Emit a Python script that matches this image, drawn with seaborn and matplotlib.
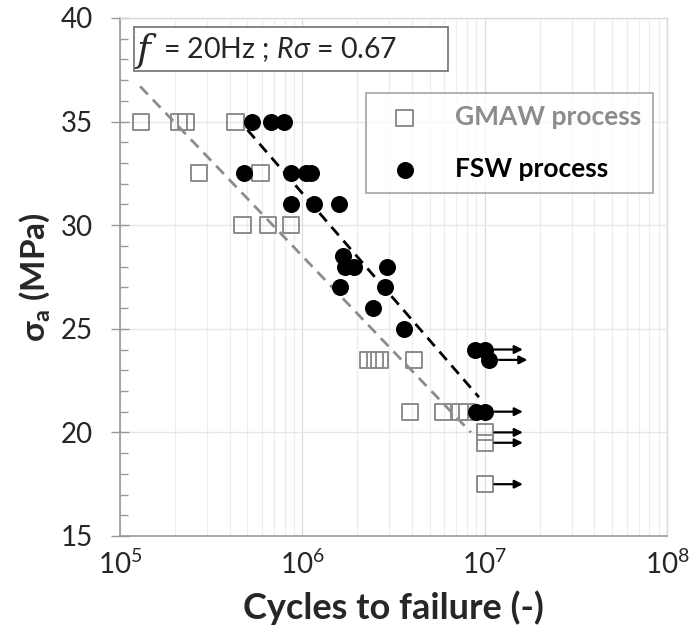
import numpy as np
import pandas as pd
import matplotlib
matplotlib.use('Agg')
import matplotlib.pyplot as plt
import seaborn as sns
from matplotlib.patches import Rectangle
from matplotlib.ticker import FixedLocator, MultipleLocator, NullFormatter

# GMAW process (open squares); last three are run-outs
gmaw_cycles = [1.3e5, 2.1e5, 2.3e5, 4.3e5, 2.7e5, 5.9e5, 4.7e5, 6.5e5, 8.7e5,
               2.3e6, 2.5e6, 2.65e6, 4.1e6, 3.9e6, 5.9e6, 7.3e6, 8.0e6,
               1.0e7, 1.0e7, 1.0e7]
gmaw_stress = [35, 35, 35, 35, 32.5, 32.5, 30, 30, 30,
               23.5, 23.5, 23.5, 23.5, 21, 21, 21, 21,
               20, 19.5, 17.5]
gmaw_runout = [False] * 17 + [True] * 3

# FSW process (filled circles)
fsw_cycles = [5.3e5, 6.7e5, 7.9e5, 4.8e5, 8.7e5, 1.05e6, 1.12e6, 8.7e5, 1.16e6,
              1.58e6, 1.68e6, 1.72e6, 1.93e6, 2.93e6, 1.6e6, 2.83e6, 2.45e6,
              3.6e6, 8.8e6, 1.0e7, 1.06e7, 9.0e6, 1.0e7]
fsw_stress = [35, 35, 35, 32.5, 32.5, 32.5, 32.5, 31, 31,
              31, 28.5, 28, 28, 28, 27, 27, 26,
              25, 24, 24, 23.5, 21, 21]
fsw_runout = [False] * 19 + [True, True, False, True]

# trend lines
gmaw_fit_cycles = [1.29e5, 8.4e6]
gmaw_fit_stress = [36.7, 20.0]
fsw_fit_cycles = [5.0e5, 9.3e6]
fsw_fit_stress = [34.6, 21.7]

gmaw = pd.DataFrame({'N': gmaw_cycles, 'S': gmaw_stress, 'runout': gmaw_runout})
fsw = pd.DataFrame({'N': fsw_cycles, 'S': fsw_stress, 'runout': fsw_runout})

sns.set_style('white')
plt.rcParams['font.family'] = ['Lato', 'DejaVu Sans']
plt.rcParams['mathtext.fontset'] = 'custom'
plt.rcParams['mathtext.rm'] = 'Lato'
plt.rcParams['mathtext.it'] = 'Lato:italic'
plt.rcParams['mathtext.bf'] = 'Lato:bold'

fig = plt.figure(figsize=(6.94, 6.26), dpi=100)
ax = fig.add_axes([120 / 694, 1 - 536 / 626, 547 / 694, 518 / 626])

ax.set_xscale('log')
ax.set_xlim(1e5, 1e8)
ax.set_ylim(15, 40)

# grid
minor_x = [m * 10 ** d for d in range(5, 8) for m in range(2, 10)]
ax.xaxis.set_minor_locator(FixedLocator(minor_x))
ax.xaxis.set_minor_formatter(NullFormatter())
ax.grid(which='minor', axis='x', color='#ededed', lw=0.9)
ax.grid(which='major', axis='x', color='#dcdcdc', lw=0.9)
ax.grid(which='major', axis='y', color='#e6e6e6', lw=1.0)
ax.set_axisbelow(True)

sns.lineplot(x=gmaw_fit_cycles, y=gmaw_fit_stress, ax=ax, color='#8c8c8c',
             lw=2.0, linestyle=(0, (4, 2.6)), zorder=2)
sns.lineplot(x=fsw_fit_cycles, y=fsw_fit_stress, ax=ax, color='black',
             lw=2.0, linestyle=(0, (4, 2.6)), zorder=2)

sns.scatterplot(data=gmaw, x='N', y='S', ax=ax, marker='s', s=135,
                facecolor='none', edgecolor='#8c8c8c', linewidth=1.4,
                label='GMAW process', zorder=3)
sns.scatterplot(data=fsw, x='N', y='S', ax=ax, marker='o', s=150,
                color='black', edgecolor='black', linewidth=0,
                label='FSW process', zorder=4)

# run-out arrows
for df in (gmaw, fsw):
    for _, r in df[df['runout']].iterrows():
        ax.annotate('', xy=(r['N'] * 1.62, r['S']), xytext=(r['N'] * 1.13, r['S']),
                    arrowprops=dict(arrowstyle='-|>', color='black', lw=1.6,
                                    mutation_scale=12, shrinkA=0, shrinkB=0),
                    zorder=5)

# ticks
ax.set_xticks([1e5, 1e6, 1e7, 1e8])
ax.set_xticklabels([r'$10^{5}$', r'$10^{6}$', r'$10^{7}$', r'$10^{8}$'])
ax.set_yticks([15, 20, 25, 30, 35, 40])
ax.yaxis.set_minor_locator(MultipleLocator(1))
ax.tick_params(axis='x', which='both', length=0, labelsize=20, pad=10)
ax.tick_params(axis='y', which='major', direction='inout', length=13,
               width=1, color='#9a9a9a', labelsize=20, pad=13, left=True)
ax.tick_params(axis='y', which='minor', direction='in', length=6,
               width=1, color='#9a9a9a', left=True)

for side in ('left', 'bottom'):
    ax.spines[side].set_color('#9a9a9a')
    ax.spines[side].set_linewidth(1.2)
for side in ('top', 'right'):
    ax.spines[side].set_color('#d9d9d9')
    ax.spines[side].set_linewidth(1.0)

ax.set_xlabel('Cycles to failure (-)', fontsize=26, fontweight='bold', labelpad=8)
ax.set_ylabel(r'$\mathbf{\sigma_a}$ (MPa)', fontsize=24, fontweight='bold', labelpad=6)

# condition box
ax.add_patch(Rectangle((0.0256, 0.898), 0.574, 0.085, transform=ax.transAxes,
                       facecolor='white', edgecolor='#707070', lw=1.2, zorder=6))
ax.text(0.030, 0.937, 'f', transform=ax.transAxes, family='DejaVu Serif',
        style='italic', fontsize=27, va='center', ha='left', zorder=7)
ax.text(0.078, 0.940, r'= 20Hz ; $R\sigma$ = 0.67', transform=ax.transAxes,
        fontsize=20.5, va='center', ha='left', zorder=7)

# legend
leg = ax.legend(loc='upper right', bbox_to_anchor=(0.974, 0.855), frameon=True,
                fancybox=False, edgecolor='#8c8c8c',
                prop={'weight': 'bold', 'size': 19}, borderpad=0.45,
                labelspacing=1.05, handletextpad=0.9, borderaxespad=0,
                markerscale=1.0)
leg.get_frame().set_linewidth(1.2)
leg.get_texts()[0].set_color('#8c8c8c')
leg.get_texts()[1].set_color('black')

fig.savefig('out.png', dpi=100)
